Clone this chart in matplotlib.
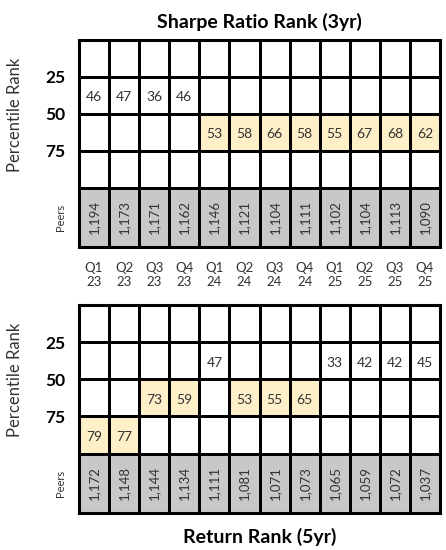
import numpy as np
import matplotlib.pyplot as plt
from matplotlib.colors import ListedColormap

plt.rcParams['font.family'] = ['Lato', 'DejaVu Sans']

quarters = ['Q1', 'Q2', 'Q3', 'Q4'] * 3
years = ['23'] * 4 + ['24'] * 4 + ['25'] * 4

sharpe_rank = [46, 47, 36, 46, 53, 58, 66, 58, 55, 67, 68, 62]
sharpe_peers = [1194, 1173, 1171, 1162, 1146, 1121, 1104, 1111, 1102, 1104, 1113, 1090]

return_rank = [79, 77, 73, 59, 47, 53, 55, 65, 33, 42, 42, 45]
return_peers = [1172, 1148, 1144, 1134, 1111, 1081, 1071, 1073, 1065, 1059, 1072, 1037]

row_labels = ['25', '50', '75']

white = '#FFFFFF'
hilite = '#FDEFC8'
grey = '#C9C7C8'
txt = '#333333'

# row edges: four quartile rows, then a taller peers row
y_edges = np.array([0, 1, 2, 3, 4, 5.6])
x_edges = np.arange(13)


def draw_grid(ax, ranks, peers, title, title_y):
    n = len(ranks)
    codes = np.zeros((5, n))
    codes[4, :] = 2
    for i, v in enumerate(ranks):
        r = int(v // 25)
        if v > 50:
            codes[r, i] = 1
    cmap = ListedColormap([white, hilite, grey])
    ax.pcolormesh(x_edges, y_edges, codes, cmap=cmap, vmin=0, vmax=2,
                  edgecolors='black', linewidth=2.0)
    for i, v in enumerate(ranks):
        r = int(v // 25)
        ax.text(i + 0.5, r + 0.55, str(v), ha='center', va='center',
                fontsize=10, color=txt)
        ax.text(i + 0.5, 4.8, f'{peers[i]:,}', ha='center', va='center',
                fontsize=9.5, color=txt, rotation=90)
    ax.set_xlim(0, n)
    ax.set_ylim(y_edges[-1], 0)
    for s in ax.spines.values():
        s.set_linewidth(2.2)
    ax.set_yticks([1, 2, 3])
    ax.set_yticklabels(row_labels, fontsize=12.5, fontweight='bold', color='black')
    ax.tick_params(axis='y', length=0, pad=10)
    ax.set_ylabel('Percentile Rank', fontsize=12, color=txt)
    ax.yaxis.set_label_coords(-0.155, 0.64)
    ax.text(-0.63, 4.8, 'Peers', rotation=90, ha='center', va='center',
            fontsize=8, color=txt)
    ax.text(0.5, title_y, title, transform=ax.transAxes, ha='center',
            va='center', fontsize=14, fontweight='bold')


fig = plt.figure(figsize=(4.46, 5.5), dpi=100)
W, H = 446, 550
ax1 = fig.add_axes([79 / W, 1 - 247 / H, 361 / W, 207 / H])
ax2 = fig.add_axes([79 / W, 1 - 513 / H, 361 / W, 208 / H])

draw_grid(ax1, sharpe_rank, sharpe_peers, 'Sharpe Ratio Rank (3yr)', 1 + 18 / 207)
draw_grid(ax2, return_rank, return_peers, 'Return Rank (5yr)', -24 / 208)

ax1.set_xticks(np.arange(12) + 0.5)
ax1.set_xticklabels([f'{q}\n{y}' for q, y in zip(quarters, years)],
                    fontsize=9.5, color=txt, linespacing=1.15)
ax1.tick_params(axis='x', length=0, pad=11)
ax2.set_xticks([])

fig.savefig('out.png', dpi=100)
